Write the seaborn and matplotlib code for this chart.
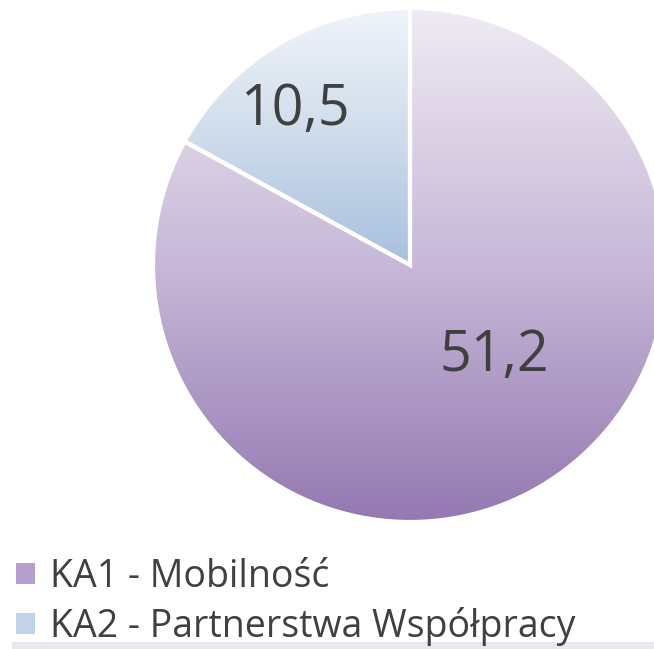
import numpy as np
import matplotlib
matplotlib.use("Agg")
import matplotlib.pyplot as plt
import seaborn as sns
from matplotlib.colors import LinearSegmentedColormap
from matplotlib.patches import Patch, Rectangle

# data
labels = ["KA1 - Mobilność", "KA2 - Partnerstwa Współpracy"]
values = [51.2, 10.5]
value_text = ["51,2", "10,5"]

sns.set_theme(style="white")
plt.rcParams['font.family'] = ['Open Sans', 'DejaVu Sans']

# gradient colours (top -> bottom) for each slice
grad_colors = [["#efebf3", "#c7b8d8", "#9479b1"],
               ["#f0f4fa", "#cfdcec", "#a7bfdd"]]
legend_colors = ["#b4a0ca", "#c2d3e8"]
text_color = "#404040"

W, H = 654, 649
fig = plt.figure(figsize=(W / 100, H / 100), dpi=100)
ax = fig.add_axes([0, 0, 1, 1])

cx, cy, r = 410, H - 265, 257
wedges, _ = ax.pie(values, startangle=90, counterclock=False,
                   center=(cx, cy), radius=r,
                   wedgeprops=dict(facecolor="none", edgecolor="white", linewidth=3))
ax.set_xlim(0, W)
ax.set_ylim(0, H)
ax.set_aspect("equal")
ax.axis("off")

# gradient fill clipped to each wedge
for w, cols in zip(wedges, grad_colors):
    cmap = LinearSegmentedColormap.from_list("g", cols)
    bb = w.get_path().get_extents(w.get_transform() + ax.transData.inverted())
    grad = np.linspace(0, 1, 256).reshape(-1, 1)
    im = ax.imshow(grad, cmap=cmap, aspect="auto", origin="upper",
                   extent=(bb.x0, bb.x1, bb.y0, bb.y1), zorder=1)
    im.set_clip_path(w)
    w.set_zorder(3)

# value labels
ax.text(494, H - 357, value_text[0], fontsize=40, color=text_color, ha="center", va="center", zorder=4)
ax.text(295, H - 111, value_text[1], fontsize=40, color=text_color, ha="center", va="center", zorder=4)

handles = [Patch(facecolor=c, edgecolor="none") for c in legend_colors]
leg = fig.legend(handles, labels, loc="upper left", bbox_to_anchor=(16 / W, 1 - 558 / H),
                 frameon=False, fontsize=27, labelcolor=text_color,
                 handlelength=0.5, handleheight=0.5, handletextpad=0.4,
                 labelspacing=0.28, borderpad=0, borderaxespad=0)

# thin band at bottom
fig.patches.append(Rectangle((12 / W, 0), 1, 7 / H, transform=fig.transFigure,
                             facecolor="#e8e8ee", edgecolor="none"))

fig.savefig("out.png", dpi=100)
